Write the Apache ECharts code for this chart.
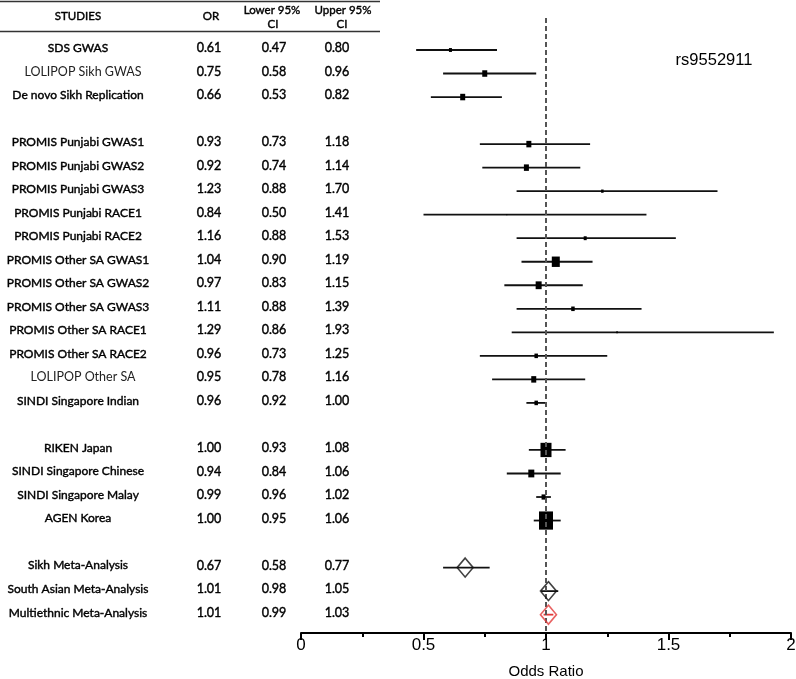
<!DOCTYPE html>
<html><head><meta charset="utf-8">
<script src="https://cdn.jsdelivr.net/npm/echarts@6/dist/echarts.min.js"></script>
<style>html,body{margin:0;padding:0;background:#fff}#c{width:796px;height:679px}</style>
</head><body><div id="c"></div>
<script>
// ---- data ----
const studies = ["SDS GWAS","LOLIPOP Sikh GWAS","De novo Sikh Replication",
 "PROMIS Punjabi GWAS1","PROMIS Punjabi GWAS2","PROMIS Punjabi GWAS3","PROMIS Punjabi RACE1","PROMIS Punjabi RACE2",
 "PROMIS Other SA GWAS1","PROMIS Other SA GWAS2","PROMIS Other SA GWAS3","PROMIS Other SA RACE1","PROMIS Other SA RACE2",
 "LOLIPOP Other SA","SINDI Singapore Indian",
 "RIKEN Japan","SINDI Singapore Chinese","SINDI Singapore Malay","AGEN Korea",
 "Sikh Meta-Analysis","South Asian Meta-Analysis","Multiethnic Meta-Analysis"];
const rowIndex = [0,1,2, 4,5,6,7,8, 9,10,11,12,13, 14,15, 17,18,19,20, 22,23,24];
const orVals  = [0.61,0.75,0.66, 0.93,0.92,1.23,0.84,1.16, 1.04,0.97,1.11,1.29,0.96, 0.95,0.96, 1.00,0.94,0.99,1.00, 0.67,1.01,1.01];
const lowerCI = [0.47,0.58,0.53, 0.73,0.74,0.88,0.50,0.88, 0.90,0.83,0.88,0.86,0.73, 0.78,0.92, 0.93,0.84,0.96,0.95, 0.58,0.98,0.99];
const upperCI = [0.80,0.96,0.82, 1.18,1.14,1.70,1.41,1.53, 1.19,1.15,1.39,1.93,1.25, 1.16,1.00, 1.08,1.06,1.02,1.06, 0.77,1.05,1.03];
// relative study weight (box size); null = pooled (meta-analysis) estimate
const weights = [3,5,5, 5,5,2.5,1,3, 8,6,3.5,1.5,3.5, 5,3.5, 11,6,4,14, null,null,null];
const regularNames = ["LOLIPOP Sikh GWAS","LOLIPOP Other SA"];
const xTicks = [0,0.5,1,1.5,2];
const snpLabel = "rs9552911";
const headers = {studies:"STUDIES", or:"OR", lower:["Lower 95%","CI"], upper:["Upper 95%","CI"]};

// ---- chart ----
const chart = echarts.init(document.getElementById('c'));
const TXT = "Lato, 'Open Sans', sans-serif";
const metaColor = (name) => name.startsWith("Multiethnic") ? "#e23a3a" : "#111";

const ciData = studies.map((s,i)=>[lowerCI[i], upperCI[i], rowIndex[i], i]);
const boxData = [], metaData = [];
studies.forEach((s,i)=>{
  if (weights[i] != null) boxData.push([orVals[i], rowIndex[i], weights[i]]);
  else metaData.push({value:[orVals[i], rowIndex[i]], itemStyle:{color:'rgba(0,0,0,0)', borderColor:metaColor(s), borderWidth:1.6}});
});
const tableData = studies.map((s,i)=>[rowIndex[i], i]);

const fmt = v => v.toFixed(2);
const semi = {stroke:'#000', lineWidth:0.4};

function hdr(text, x, y){
  return {type:'text', style:Object.assign({text:text, x:x, y:y, align:'center', verticalAlign:'middle', fontFamily:TXT, fontSize:11.5, fill:'#000'}, semi)};
}

chart.setOption({
  animation:false,
  backgroundColor:'#fff',
  grid:{left:301, right:5, top:18, bottom:46, containLabel:false, outerBoundsMode:'none'},
  xAxis:{type:'value', min:0, max:2, interval:0.5,
    axisLine:{show:true, onZero:false, lineStyle:{color:'#000', width:2}},
    axisTick:{show:true, length:7, lineStyle:{color:'#000', width:2}},
    minorTick:{show:true, splitNumber:2, length:4, lineStyle:{color:'#000', width:2}},
    splitLine:{show:false}, minorSplitLine:{show:false},
    axisLabel:{margin:4, fontSize:17, color:'#000', fontFamily:"'Liberation Sans', Arial, sans-serif",
      formatter: v => xTicks.includes(v) ? String(v) : ''},
    name:'Odds Ratio', nameLocation:'middle', nameGap:31,
    nameTextStyle:{fontSize:15, color:'#000', fontFamily:"'Liberation Sans', Arial, sans-serif"}
  },
  yAxis:{type:'value', min:-1.36, max:24.78, inverse:true, show:false},
  series:[
    {type:'custom', name:'ci', data:ciData, encode:{x:[0,1], y:2}, clip:false, z:3,
      renderItem:(params, api)=>{
        const i = api.value(3);
        const a = api.coord([api.value(0), api.value(2)]);
        const b = api.coord([api.value(1), api.value(2)]);
        const col = weights[i]==null ? metaColor(studies[i]) : '#111';
        return {type:'line', shape:{x1:a[0], y1:a[1], x2:b[0], y2:b[1]},
          style:{stroke:col, lineWidth:1.8}};
      },
      markLine:{silent:true, symbol:['none','none'], label:{show:false},
        lineStyle:{type:[5,3], color:'#555', width:2}, data:[{xAxis:1}]}
    },
    {type:'scatter', name:'studies', data:boxData, symbol:'rect', z:4,
      symbolSize:(v)=>[v[2], v[2]*1.3], itemStyle:{color:'#000', opacity:1}},
    {type:'scatter', name:'meta', data:metaData, symbol:'diamond', z:5,
      symbolSize:[16,19]},
    {type:'custom', name:'table', data:tableData, clip:false, encode:{y:0},
      renderItem:(params, api)=>{
        const i = api.value(1);
        const y = api.coord([0, api.value(0)])[1] - 2;
        const name = studies[i];
        const reg = regularNames.includes(name);
        const base = {fontFamily:TXT, fontSize:12, fill:'#000', verticalAlign:'middle', align:'center'};
        const nameStyle = reg ? {text:name, x:83, y:y, fill:'#222', fontSize:12.5} : Object.assign({text:name, x:78, y:y}, semi);
        return {type:'group', children:[
          {type:'text', style:Object.assign({}, base, nameStyle)},
          {type:'text', style:Object.assign({}, base, semi, {text:fmt(orVals[i]), x:209, y:y, fontSize:12.5})},
          {type:'text', style:Object.assign({}, base, semi, {text:fmt(lowerCI[i]), x:274, y:y, fontSize:12.5})},
          {type:'text', style:Object.assign({}, base, semi, {text:fmt(upperCI[i]), x:337, y:y, fontSize:12.5})}
        ]};
      }
    }
  ],
  graphic:[
    {type:'line', shape:{x1:0, y1:1.5, x2:380, y2:1.5}, style:{stroke:'#333', lineWidth:1.5}},
    {type:'line', shape:{x1:0, y1:31.5, x2:380, y2:31.5}, style:{stroke:'#333', lineWidth:1.5}},
    hdr(headers.studies, 78, 16),
    hdr(headers.or, 211, 16),
    hdr(headers.lower[0], 272, 10),
    hdr(headers.lower[1], 273, 24),
    hdr(headers.upper[0], 343, 10),
    hdr(headers.upper[1], 342, 24),
    {type:'text', style:{text:snpLabel, x:714, y:60, align:'center', verticalAlign:'middle', fontFamily:"'Liberation Sans', Arial, sans-serif", fontSize:16.5, fill:'#000'}}
  ]
});
</script>
</body></html>
